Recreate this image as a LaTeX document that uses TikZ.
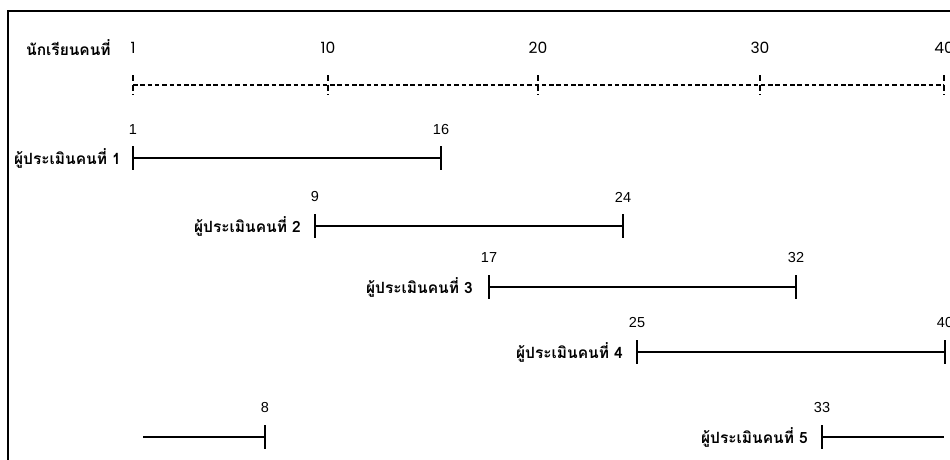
\documentclass[tikz,border=0pt]{standalone}
\usepackage{fontspec}
\setmainfont{Liberation Sans}
\newfontfamily\thaifont[Script=Thai]{Loma}
\newfontfamily\numfont{Poppins}
\begin{document}
\begin{tikzpicture}[x=1pt,y=-1pt,
  num/.style={font=\fontsize{14.5}{16}\selectfont, inner sep=0pt},
  hnum/.style={font=\numfont\fontsize{15.5}{17}\selectfont, inner sep=0pt},
  lbl/.style={font=\thaifont\bfseries\fontsize{15.5}{17}\selectfont, inner sep=0pt, anchor=east},
  seg/.style={line width=1.8pt},
  axisline/.style={line width=1.3pt, dash pattern=on 4.5pt off 2.8pt},
  axisbar/.style={line width=1.3pt, dash pattern=on 6pt off 3.5pt},
  frame/.style={line width=2pt}]
\useasboundingbox (0,0) rectangle (950,459);
\clip (0,0) rectangle (950,459);
\draw[frame] (8,11) rectangle (990,500);

% header
\node[lbl, anchor=west] (hdr) at (26,48) {นักเรียนคนที่};
\node[hnum] (h1) at (133,48) {1};
\node[hnum] (h10) at (328,48) {10};
\node[hnum] (h20) at (538,48) {20};
\node[hnum] (h30) at (760,48) {30};
\node[hnum] (h40) at (944,48) {40};

% axis
\coordinate (a1) at (133,85);
\coordinate (a10) at (328,85);
\coordinate (a20) at (538,85);
\coordinate (a30) at (760,85);
\coordinate (a40) at (944,85);
\draw[axisline] (a1) -- (a40);
\foreach \c in {a1,a10,a20,a30,a40}
  \draw[axisbar] ([yshift=10pt]\c) -- ([yshift=-10pt]\c);

% rater 1
\coordinate (s1) at (133,158); \coordinate (e1) at (441,158);
\draw[seg] (s1) -- (e1);
\draw[seg] ([yshift=12pt]s1) -- ([yshift=-12pt]s1);
\draw[seg] ([yshift=12pt]e1) -- ([yshift=-12pt]e1);
\node[num] (ns1) at (133,130) {1};
\node[num] (ne1) at (441,130) {16};
\node[lbl] (r1) at (121,158) {ผู้ประเมินคนที่ 1};

% rater 2
\coordinate (s2) at (315,226); \coordinate (e2) at (623,226);
\draw[seg] (s2) -- (e2);
\draw[seg] ([yshift=12pt]s2) -- ([yshift=-12pt]s2);
\draw[seg] ([yshift=12pt]e2) -- ([yshift=-12pt]e2);
\node[num] (ns2) at (315,197) {9};
\node[num] (ne2) at (623,197) {24};
\node[lbl] (r2) at (301,226) {ผู้ประเมินคนที่ 2};

% rater 3
\coordinate (s3) at (489,287); \coordinate (e3) at (796,287);
\draw[seg] (s3) -- (e3);
\draw[seg] ([yshift=12pt]s3) -- ([yshift=-12pt]s3);
\draw[seg] ([yshift=12pt]e3) -- ([yshift=-12pt]e3);
\node[num] (ns3) at (489,258) {17};
\node[num] (ne3) at (796,258) {32};
\node[lbl] (r3) at (473,287) {ผู้ประเมินคนที่ 3};

% rater 4
\coordinate (s4) at (637,352); \coordinate (e4) at (945,352);
\draw[seg] (s4) -- (e4);
\draw[seg] ([yshift=12pt]s4) -- ([yshift=-12pt]s4);
\draw[seg] ([yshift=12pt]e4) -- ([yshift=-12pt]e4);
\node[num] (ns4) at (637,322) {25};
\node[num] (ne4) at (945,322) {40};
\node[lbl] (r4) at (623,352) {ผู้ประเมินคนที่ 4};

% rater 5 (wraps around)
\coordinate (f5) at (143,437); \coordinate (e5) at (265,437);
\coordinate (s5) at (822,437); \coordinate (g5) at (944,437);
\draw[seg] (f5) -- (e5);
\draw[seg] ([yshift=12pt]e5) -- ([yshift=-12pt]e5);
\draw[seg] (s5) -- (g5);
\draw[seg] ([yshift=12pt]s5) -- ([yshift=-12pt]s5);
\node[num] (ne5) at (265,407) {8};
\node[num] (ns5) at (822,407) {33};
\node[lbl] (r5) at (808,437) {ผู้ประเมินคนที่ 5};
\end{tikzpicture}
\end{document}
